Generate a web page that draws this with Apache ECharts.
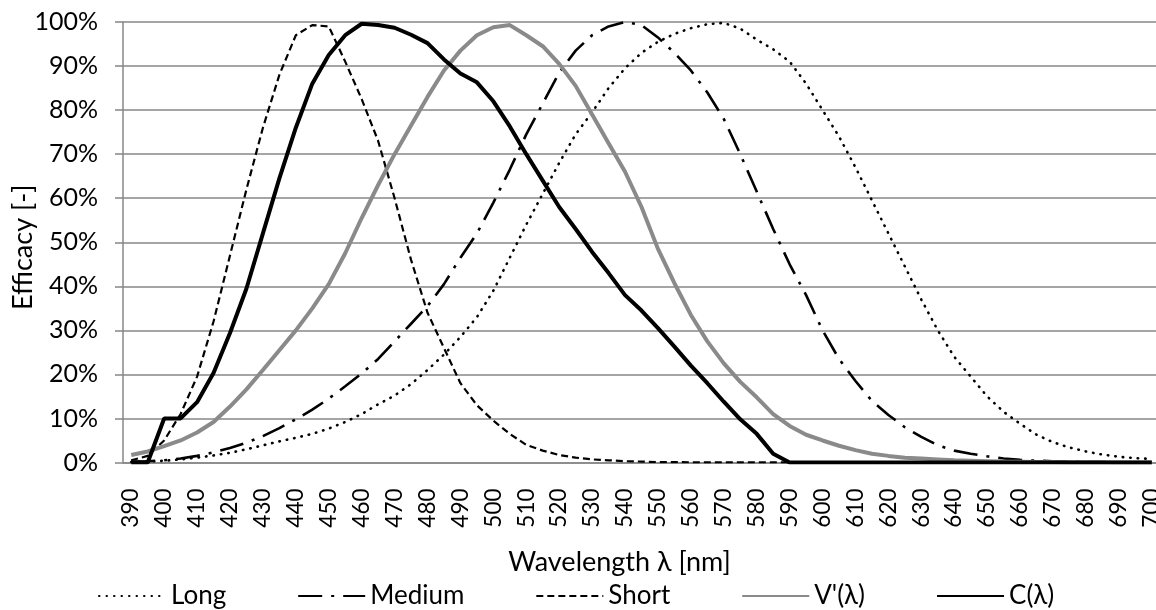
<!DOCTYPE html>
<html>
<head>
<meta charset="utf-8">
<title>Efficacy</title>
<script src="https://cdn.jsdelivr.net/npm/echarts@6.0.0/dist/echarts.min.js"></script>
<style>
	html, body { margin: 0; padding: 0; background: #fff; }
	#chart { width: 1156px; height: 610px; }
</style>
</head>
<body>
<div id="chart"></div>
<script>
// wavelength categories, nm
var wavelengths = ['390','395','400','405','410','415','420','425','430','435',
	'440','445','450','455','460','465','470','475','480','485',
	'490','495','500','505','510','515','520','525','530','535',
	'540','545','550','555','560','565','570','575','580','585',
	'590','595','600','605','610','615','620','625','630','635',
	'640','645','650','655','660','665','670','675','680','685',
	'690','695','700'];

// efficacy in %
var longCone = [0.1,0.2,0.4,0.7,1.1,1.6,2.2,3.0,3.9,4.8,
	5.6,6.5,7.7,9.2,11.0,13.2,15.2,17.8,21.0,24.5,
	28.5,33.0,39.0,46.5,54.0,61.0,68.0,74.5,79.5,85.0,
	89.5,93.0,95.5,97.3,98.6,99.5,99.8,98.5,96.0,93.8,
	91.0,86.0,80.0,74.0,67.0,59.5,52.0,44.5,37.0,30.0,
	24.0,19.5,15.0,11.5,8.8,6.3,4.6,3.4,2.5,1.8,
	1.3,1.0,0.8];
var mediumCone = [0.2,0.3,0.5,0.9,1.5,2.3,3.3,4.5,6.0,7.8,
	9.8,12.0,14.5,17.3,20.2,23.5,27.5,31.5,35.5,40.5,
	46.5,52.0,59.0,66.5,74.5,81.5,88.5,93.5,97.0,99.0,
	100,99.3,96.5,93.0,89.0,84.0,78.0,70.0,61.5,53.0,
	45.0,38.0,30.0,23.5,18.5,14.0,10.8,8.0,5.8,3.9,
	2.7,2.0,1.4,0.9,0.6,0.4,0.3,0.2,0.1,0.1,
	0.05,0.03,0.02];
var shortCone = [0.5,1.5,5.0,11.0,19.5,32.0,47.0,62.0,76.0,88.0,
	97.0,99.3,99.0,91.0,82.5,73.0,60.0,46.0,34.0,26.0,
	18.0,13.0,9.5,6.5,4.0,2.7,1.7,1.1,0.7,0.5,
	0.3,0.2,0.1,0.1,0.05,0.05,0.03,0.03,0.02,0.02,
	0.01,0.01,0,0,0,0,0,0,0,0,
	0,0,0,0,0,0,0,0,0,0,
	0,0,0];
var vScotopic = [1.7,2.5,3.7,5.0,6.8,9.2,12.7,16.6,21.0,25.5,
	30.0,35.0,40.5,47.5,55.5,63.0,70.0,76.5,83.0,89.0,
	93.5,97.0,98.8,99.3,97.0,94.5,90.5,85.5,79.0,72.5,
	66.0,58.0,48.5,40.7,33.5,27.5,22.5,18.3,14.8,11.0,
	8.3,6.3,5.0,3.8,2.8,2.0,1.5,1.1,0.9,0.7,
	0.5,0.4,0.3,0.2,0.15,0.1,0.1,0.05,0.05,0.03,
	0.02,0.01,0.01];
var cLambda = [0,0,10.0,10.0,13.7,20.3,29.4,39.5,52.0,64.5,
	76.0,86.0,92.5,97.0,99.6,99.3,98.7,97.1,95.2,91.5,
	88.3,86.3,82.0,76.3,70.0,64.0,58.0,53.0,47.8,43.0,
	38.0,34.5,30.5,26.3,22.0,18.0,13.8,9.8,6.5,2.0,
	0,0,0,0,0,0,0,0,0,0,
	0,0,0,0,0,0,0,0,0,0,
	0,0,0];

var seriesNames = ['Long', 'Medium', 'Short', 'V\'(λ)', 'C(λ)'];

var fontName = 'Lato, "Noto Sans", sans-serif';
var gridGrey = '#878787';

function lineSeries(name, data, lineStyle) {
	return {
		name: name,
		type: 'line',
		data: data,
		symbol: 'none',
		itemStyle: { color: lineStyle.color },
		lineStyle: lineStyle
	};
}

var myChart = echarts.init(document.getElementById('chart'), null, { renderer: 'canvas' });
var option = {
	animation: false,
	textStyle: { fontFamily: fontName },
	// plot area runs a little past the right edge, like the original
	grid: { left: 123, top: 22, width: 1037, height: 440.5, outerBoundsMode: 'none', containLabel: false },
	legend: {
		left: 93,
		top: 578,
		itemWidth: 67,
		itemHeight: 14,
		itemGap: 71,
		// hide the marker circle, keep only the line sample
		itemStyle: { opacity: 0 },
		textStyle: { fontFamily: fontName, fontSize: 26, color: '#000' },
		data: seriesNames
	},
	xAxis: {
		type: 'category',
		data: wavelengths,
		boundaryGap: true,
		name: 'Wavelength λ [nm]',
		nameLocation: 'middle',
		nameGap: 86,
		nameMoveOverlap: false,
		nameTextStyle: { fontFamily: fontName, fontSize: 27, color: '#000', padding: [0, 44, 0, 0] },
		axisLine: { lineStyle: { color: gridGrey, width: 1.5 } },
		axisTick: { interval: 0, length: 7, lineStyle: { color: gridGrey, width: 1.5 } },
		axisLabel: { interval: 1, rotate: 90, margin: 26, fontSize: 22.5, color: '#000', fontFamily: fontName },
		splitLine: { show: false }
	},
	yAxis: {
		type: 'value',
		min: 0,
		max: 100,
		interval: 10,
		name: 'Efficacy [-]',
		nameLocation: 'middle',
		nameGap: 86,
		nameMoveOverlap: false,
		nameTextStyle: { fontFamily: fontName, fontSize: 27, color: '#000', padding: [0, 10, 0, 0] },
		axisLine: { show: true, lineStyle: { color: gridGrey, width: 1.5 } },
		axisTick: { show: true, length: 8, lineStyle: { color: gridGrey, width: 1.5 } },
		axisLabel: { formatter: '{value}%', margin: 25, fontSize: 25, color: '#000', fontFamily: fontName },
		splitLine: { lineStyle: { color: gridGrey, width: 1.5 } }
	},
	series: [
		lineSeries('Long', longCone, { color: '#000', width: 2.6, type: [0.5, 7], cap: 'round' }),
		lineSeries('Medium', mediumCone, { color: '#000', width: 2.6, type: [24, 9, 3, 9] }),
		lineSeries('Short', shortCone, { color: '#000', width: 2.2, type: [7, 4] }),
		lineSeries('V\'(λ)', vScotopic, { color: '#8a8a8a', width: 4 }),
		lineSeries('C(λ)', cLambda, { color: '#000', width: 4 })
	]
};
myChart.setOption(option);
</script>
</body>
</html>
